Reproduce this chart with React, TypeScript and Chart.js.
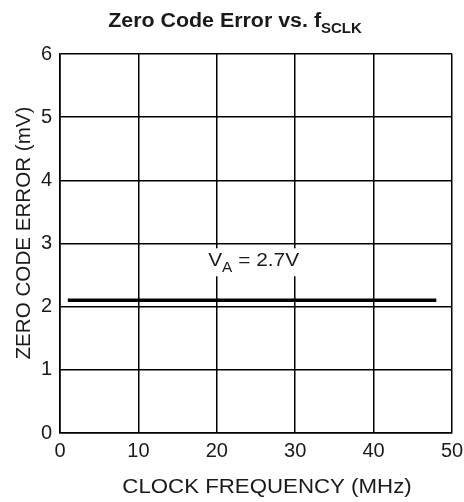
import React, { useEffect, useRef } from "react";
import { Chart, registerables } from "chart.js";

Chart.register(...registerables);

const freqMHz = [1, 48];
const zeroCodeErrorMV = [2.1, 2.1];
const xTicks = [0, 10, 20, 30, 40, 50];
const yTicks = [0, 1, 2, 3, 4, 5, 6];
const titleMain = "Zero Code Error vs. f";
const titleSub = "SCLK";
const xTitle = "CLOCK FREQUENCY (MHz)";
const yTitle = "ZERO CODE ERROR (mV)";
const annoMain = "V";
const annoSub = "A";
const annoRest = " = 2.7V";
const annoX = 24.7;
const annoY = 2.75;

const FONT = "'Liberation Sans', Arial, sans-serif";
const INK = "#1a1a1a";

function drawStretched(ctx: any, parts: { t: string; font: string; dy: number }[], cx: number, baseY: number, sx: number, bg?: boolean) {
  let widths = parts.map((p) => {
    ctx.font = p.font;
    return ctx.measureText(p.t).width;
  });
  const total = widths.reduce((a, b) => a + b, 0) * sx;
  const left = cx - total / 2;
  if (bg) {
    ctx.fillStyle = "#ffffff";
    ctx.fillRect(left - 3, baseY - 18, total + 6, 28);
  }
  ctx.fillStyle = INK;
  ctx.save();
  ctx.translate(left, baseY);
  ctx.scale(sx, 1);
  ctx.textAlign = "left";
  ctx.textBaseline = "alphabetic";
  let x = 0;
  parts.forEach((p, i) => {
    ctx.font = p.font;
    ctx.fillText(p.t, x, p.dy);
    x += widths[i];
  });
  ctx.restore();
}

const textPlugin = {
  id: "textPlugin",
  afterDraw(chart: any) {
    const ctx = chart.ctx;
    ctx.save();
    drawStretched(
      ctx,
      [
        { t: titleMain, font: `bold 20px ${FONT}`, dy: 0 },
        { t: titleSub, font: `bold 14px ${FONT}`, dy: 6 },
      ],
      235,
      27,
      1.07
    );
    drawStretched(ctx, [{ t: xTitle, font: `21px ${FONT}`, dy: 0 }], 267, 493, 1.06);
    ctx.save();
    ctx.translate(30, 233);
    ctx.rotate(-Math.PI / 2);
    ctx.fillStyle = INK;
    ctx.font = `20px ${FONT}`;
    ctx.textAlign = "center";
    ctx.textBaseline = "alphabetic";
    ctx.save();
    ctx.scale(1.03, 1);
    ctx.fillText(yTitle, 0, 0);
    ctx.restore();
    ctx.restore();
    const xs = chart.scales.x;
    const ys = chart.scales.y;
    const ax = xs.getPixelForValue(annoX);
    const ay = ys.getPixelForValue(annoY);
    drawStretched(
      ctx,
      [
        { t: annoMain, font: `19px ${FONT}`, dy: 0 },
        { t: annoSub, font: `14px ${FONT}`, dy: 6 },
        { t: annoRest, font: `19px ${FONT}`, dy: 0 },
      ],
      ax,
      ay + 7,
      1.1,
      true
    );
    ctx.restore();
  },
};

export default function App() {
  const ref = useRef<HTMLCanvasElement>(null);
  useEffect(() => {
    if (!ref.current) return;
    const chart = new Chart(ref.current, {
      type: "scatter",
      data: {
        datasets: [
          {
            data: freqMHz.map((f, i) => ({ x: f, y: zeroCodeErrorMV[i] })),
            showLine: true,
            borderColor: "#000000",
            borderWidth: 3.5,
            pointRadius: 0,
            fill: false,
          },
        ],
      },
      options: {
        animation: false,
        responsive: false,
        maintainAspectRatio: false,
        layout: { padding: { top: 54, right: 12, left: 0, bottom: 0 } },
        plugins: {
          legend: { display: false },
          tooltip: { enabled: false },
          title: { display: false },
        },
        scales: {
          x: {
            type: "linear",
            min: 0,
            max: 50,
            afterBuildTicks: (s: any) => {
              s.ticks = xTicks.map((v) => ({ value: v }));
            },
            afterFit: (s: any) => {
              s.height = 69;
              s.paddingLeft = 0;
              s.paddingRight = 0;
            },
            grid: { color: "#000000", lineWidth: 1.5, drawTicks: false },
            border: { color: "#000000", width: 1.6 },
            ticks: {
              color: INK,
              font: { family: FONT, size: 20 },
              padding: 6,
              maxRotation: 0,
            },
          },
          y: {
            type: "linear",
            min: 0,
            max: 6,
            afterBuildTicks: (s: any) => {
              s.ticks = yTicks.map((v) => ({ value: v }));
            },
            afterFit: (s: any) => {
              s.width = 60;
              s.paddingTop = 0;
              s.paddingBottom = 0;
            },
            grid: { color: "#000000", lineWidth: 1.5, drawTicks: false },
            border: { color: "#000000", width: 1.6 },
            ticks: {
              color: INK,
              font: { family: FONT, size: 20 },
              padding: 8,
            },
          },
        },
      },
      plugins: [textPlugin],
    });
    return () => chart.destroy();
  }, []);
  return (
    <div style={{ position: "fixed", left: 0, top: 0, width: 464, height: 502, background: "#fff" }}>
      <canvas ref={ref} width={464} height={502} style={{ width: 464, height: 502 }} />
    </div>
  );
}
